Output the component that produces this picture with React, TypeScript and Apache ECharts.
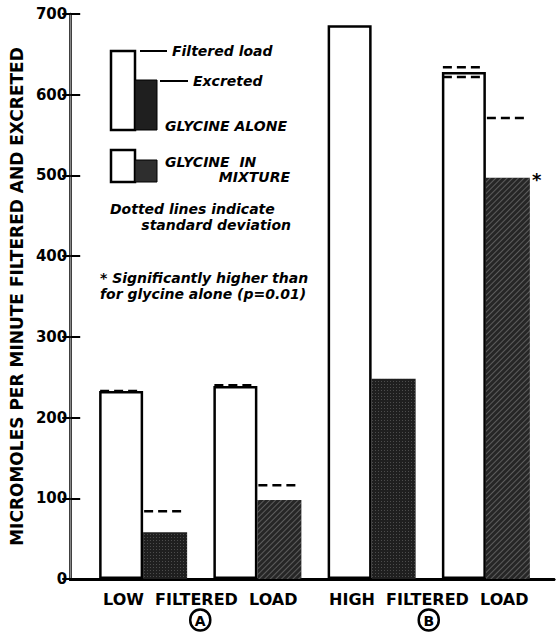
import React, { useEffect, useRef } from "react";
import * as echarts from "echarts";

const categories = ["Low · alone", "Low · mixture", "High · alone", "High · mixture"];
const groupLabels = ["LOW  FILTERED  LOAD", "HIGH  FILTERED  LOAD"];
const groupMarks = ["A", "B"];
const filteredLoad = [233, 239, 686, 628];
const excreted = [58, 98, 248, 497];
// standard deviation dashes: [category index, value]
const filteredSD = [[0, 233], [1, 240], [3, 634], [3, 622]];
const excretedSD = [[0, 84], [1, 116], [3, 571]];
const significant = [false, false, false, true];
const yTicks = [0, 100, 200, 300, 400, 500, 600, 700];

const FONT = "DejaVu Sans";

export default function App() {
  const ref = useRef<HTMLDivElement>(null);
  useEffect(() => {
    if (!ref.current) return;
    const chart = echarts.init(ref.current, null, { renderer: "svg" });
    const BW = 44;
    const stipple = {
      symbol: "rect",
      symbolSize: 1,
      dashArrayX: [1, 2],
      dashArrayY: [1, 2],
      color: "rgba(255,255,255,0.2)",
    };
    const hatch = {
      symbol: "rect",
      symbolSize: 1,
      dashArrayX: [1, 0],
      dashArrayY: [1, 3],
      rotation: -Math.PI / 4,
      color: "rgba(255,255,255,0.25)",
    };
    const sdData = [
      ...filteredSD.map((d) => [d[0], d[1], 0]),
      ...excretedSD.map((d) => [d[0], d[1], 1]),
    ];
    const legendText = (x: number, y: number, text: string, align = "left") => ({
      type: "text",
      x,
      y,
      style: {
        text,
        fill: "#000",
        font: `italic bold 14px '${FONT}'`,
        align,
        verticalAlign: "middle",
      },
    });
    const option = {
      animation: false,
      backgroundColor: "#fff",
      grid: [
        { left: 86, right: 13, top: 14, bottom: 60 },
        { left: 69, right: 2, top: 14, bottom: 60 },
      ],
      xAxis: [
        {
          type: "category",
          gridIndex: 0,
          data: categories,
          axisLine: { show: false },
          axisTick: { show: false },
          axisLabel: { show: false },
        },
        {
          type: "category",
          gridIndex: 0,
          position: "bottom",
          data: groupLabels,
          axisLine: { show: false },
          axisTick: { show: false },
          axisLabel: {
            margin: 9,
            formatter: (v: string, i: number) => `{t|${v}}\n{c|${groupMarks[i]}}`,
            rich: {
              t: { fontFamily: FONT, fontSize: 16, fontWeight: "bold", color: "#000", lineHeight: 22 },
              c: {
                fontFamily: FONT,
                fontSize: 14,
                fontWeight: "bold",
                color: "#000",
                width: 20,
                height: 20,
                lineHeight: 20,
                align: "center",
                borderColor: "#000",
                borderWidth: 2.5,
                borderRadius: 12,
                padding: [1, 0, 0, 0],
              },
            },
          },
        },
        {
          type: "value",
          gridIndex: 1,
          position: "bottom",
          min: 0,
          max: 1,
          axisLine: { show: true, lineStyle: { color: "#000", width: 3 } },
          axisTick: { show: false },
          axisLabel: { show: false },
          splitLine: { show: false },
        },
        {
          type: "value",
          gridIndex: 1,
          position: "top",
          min: 0,
          max: 1,
          axisLine: { show: true, lineStyle: { color: "#000", width: 2.5 } },
          axisTick: { show: false },
          axisLabel: { show: false },
          splitLine: { show: false },
        },
      ],
      yAxis: [
        {
          type: "value",
          gridIndex: 0,
          min: 0,
          max: 700,
          show: false,
        },
        {
          type: "value",
          gridIndex: 1,
          position: "left",
          min: 0,
          max: 700,
          interval: 100,
          name: "MICROMOLES PER MINUTE FILTERED AND EXCRETED",
          nameLocation: "middle",
          nameGap: 40,
          nameRotate: 90,
          nameTextStyle: { fontFamily: FONT, fontSize: 17, fontWeight: "bold", color: "#000" },
          axisLine: { show: true, lineStyle: { color: "#000", width: 2.5 } },
          axisTick: { show: true, inside: true, length: 10, lineStyle: { color: "#000", width: 2 } },
          axisLabel: {
            margin: 3,
            fontFamily: FONT,
            fontSize: 15,
            fontWeight: "bold",
            color: "#000",
            formatter: (v: number) => (yTicks.includes(v) ? String(v) : ""),
          },
          splitLine: { show: false },
        },
        {
          type: "value",
          gridIndex: 1,
          position: "right",
          min: 0,
          max: 700,
          interval: 100,
          axisLine: { show: true, lineStyle: { color: "#888", width: 1 } },
          axisTick: { show: true, inside: true, length: 8, lineStyle: { color: "#000", width: 2 } },
          axisLabel: { show: false },
          splitLine: { show: false },
        },
      ],
      series: [
        {
          name: "Filtered load",
          type: "bar",
          xAxisIndex: 0,
          yAxisIndex: 0,
          barWidth: BW,
          barGap: "0%",
          data: filteredLoad.map((v) => ({
            value: v,
            itemStyle: { color: "#fff", borderColor: "#000", borderWidth: 2.5 },
          })),
          z: 3,
        },
        {
          name: "Excreted",
          type: "bar",
          xAxisIndex: 0,
          yAxisIndex: 0,
          barWidth: BW,
          barGap: "0%",
          data: excreted.map((v, i) => ({
            value: v,
            itemStyle: {
              color: i % 2 === 0 ? "#1f1f1f" : "#262626",
              decal: i % 2 === 0 ? stipple : hatch,
            },
            label: significant[i]
              ? {
                  show: true,
                  formatter: "*",
                  position: [46, -7],
                  fontFamily: FONT,
                  fontSize: 18,
                  fontWeight: "bold",
                  color: "#000",
                }
              : { show: false },
          })),
          z: 2,
        },
        {
          name: "SD",
          type: "custom",
          xAxisIndex: 0,
          yAxisIndex: 0,
          data: sdData,
          z: 5,
          renderItem: (params: any, api: any) => {
            const cat = api.value(0);
            const v = api.value(1);
            const side = api.value(2);
            const p = api.coord([cat, v]);
            const x0 = side === 0 ? p[0] - BW : p[0];
            return {
              type: "line",
              shape: { x1: x0 + 1, y1: p[1], x2: x0 + BW - 1, y2: p[1] },
              style: { stroke: "#000", lineWidth: 2.5, lineDash: [9, 5] },
            };
          },
        },
      ],
      graphic: [
        { type: "rect", shape: { x: 111, y: 51, width: 24, height: 79 }, style: { fill: "#fff", stroke: "#000", lineWidth: 2.5 } },
        { type: "rect", shape: { x: 135, y: 80, width: 22, height: 50 }, style: { fill: "#1f1f1f", stroke: "#000", lineWidth: 1 } },
        { type: "line", shape: { x1: 140, y1: 51, x2: 167, y2: 51 }, style: { stroke: "#000", lineWidth: 2 } },
        legendText(172, 51, "Filtered load"),
        { type: "line", shape: { x1: 160, y1: 81, x2: 188, y2: 81 }, style: { stroke: "#000", lineWidth: 2 } },
        legendText(193, 81, "Excreted"),
        legendText(165, 126, "GLYCINE ALONE"),
        { type: "rect", shape: { x: 111, y: 150, width: 24, height: 32 }, style: { fill: "#fff", stroke: "#000", lineWidth: 2.5 } },
        { type: "rect", shape: { x: 135, y: 160, width: 22, height: 22 }, style: { fill: "#2e2e2e", stroke: "#000", lineWidth: 1 } },
        legendText(165, 162, "GLYCINE  IN"),
        legendText(290, 177, "MIXTURE", "right"),
        legendText(110, 209, "Dotted lines indicate"),
        legendText(291, 225, "standard deviation", "right"),
        legendText(100, 278, "* Significantly higher than"),
        legendText(100, 294, "for glycine alone (p=0.01)"),
      ],
    };
    chart.setOption(option as any);
    return () => chart.dispose();
  }, []);
  return (
    <div
      ref={ref}
      style={{ position: "fixed", left: 0, top: 0, width: 556, height: 639, background: "#fff" }}
    />
  );
}
